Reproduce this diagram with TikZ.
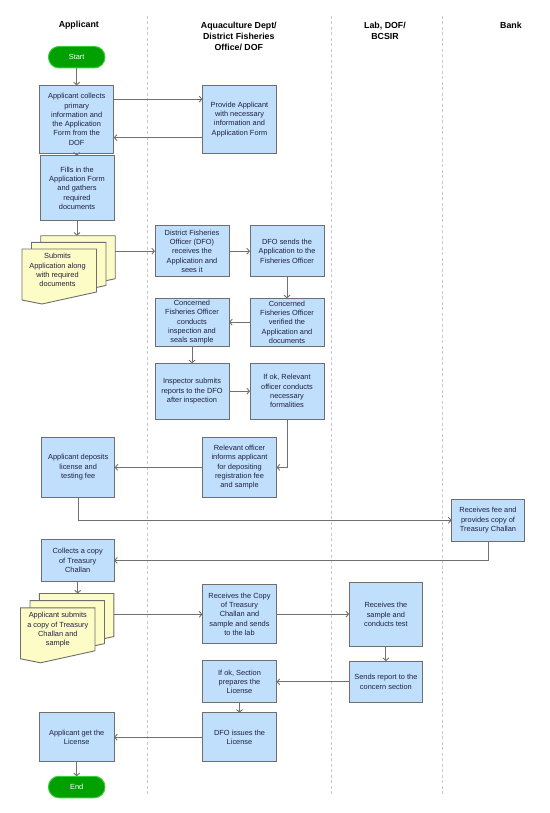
\documentclass[tikz,border=0pt]{standalone}
\usepackage{fontspec}
\setmainfont{Liberation Sans}
\usetikzlibrary{arrows.meta}
\definecolor{boxblue}{HTML}{BFDFFC}
\definecolor{edgegray}{HTML}{6E6E6E}
\definecolor{arrowgray}{HTML}{707070}
\definecolor{docyellow}{HTML}{FDFBC6}
\definecolor{termgreen}{HTML}{00A000}
\definecolor{termedge}{HTML}{40CC40}
\definecolor{lanecol}{HTML}{C6C6E2}
\definecolor{txt}{HTML}{202040}
\begin{document}
\begin{tikzpicture}[x=1pt,y=-1pt,
  proc/.style={draw=edgegray, line width=0.9pt, fill=boxblue, align=center, text=txt,
    font=\fontsize{7.4}{9.3}\selectfont, inner sep=0pt, outer sep=0pt},
  term/.style={draw=termedge, line width=1pt, fill=termgreen, text=white,
    rounded corners=10.5pt, font=\fontsize{7.4}{9.3}\selectfont, inner sep=0pt, outer sep=0pt,
    minimum width=56.5pt, minimum height=21.5pt},
  docsheet/.style={draw=edgegray, line width=0.9pt, fill=docyellow},
  doctext/.style={align=center, text=txt, font=\fontsize{7.4}{9.3}\selectfont, inner sep=0pt},
  head/.style={align=center, font=\bfseries\fontsize{8.8}{11.2}\selectfont, inner sep=0pt},
  lane/.style={draw=lanecol, line width=1pt, dash pattern=on 3pt off 2.5pt},
  conn/.style={draw=arrowgray, line width=0.9pt, -{Straight Barb[length=2.6pt,width=6pt]}}]
\useasboundingbox (0,0) rectangle (549,813);

% swimlane separators
\coordinate (l1t) at (147,15.8); \coordinate (l1b) at (147,796.7);
\coordinate (l2t) at (331,15.8); \coordinate (l2b) at (331,796.7);
\coordinate (l3t) at (442,15.8); \coordinate (l3b) at (442,796.7);
\draw[lane] (l1t) -- (l1b);
\draw[lane] (l2t) -- (l2b);
\draw[lane] (l3t) -- (l3b);

% headers
\node[head] (h1) at (78.8,25.2) {Applicant};
\node[head] (h2) at (238.8,36.4) {Aquaculture Dept/\\District Fisheries\\Office/ DOF};
\node[head] (h3) at (385,30.8) {Lab, DOF/\\BCSIR};
\node[head] (h4) at (511,25.2) {Bank};

% terminals
\node[term] (start) at (76.7,57.2) {Start};
\node[term] (end) at (76.7,787) {End};

% process boxes
\node[proc, minimum width=74.2pt, minimum height=68pt] (b1) at (76.7,119.4)
  {Applicant collects\\primary\\information and\\the Application\\Form from the\\DOF};
\node[proc, minimum width=74.2pt, minimum height=68pt] (prov) at (239.5,119.4)
  {Provide Applicant\\with necessary\\information and\\Application Form};
\node[proc, minimum width=74pt, minimum height=65pt] (fills) at (77,188.2)
  {Fills in the\\Application Form\\and gathers\\required\\documents};
\node[proc, minimum width=74pt, minimum height=51pt] (dfo) at (192,251.2)
  {District Fisheries\\Officer (DFO)\\receives the\\Application and\\sees it};
\node[proc, minimum width=74pt, minimum height=51pt] (dfosend) at (287,251.2)
  {DFO sends the\\Application to the\\Fisheries Officer};
\node[proc, minimum width=74pt, minimum height=47.7pt] (conducts) at (192,322.2)
  {Concerned\\Fisheries Officer\\conducts\\inspection and\\seals sample};
\node[proc, minimum width=74pt, minimum height=47.7pt] (verified) at (287,322.2)
  {Concerned\\Fisheries Officer\\verified the\\Application and\\documents};
\node[proc, minimum width=74pt, minimum height=55.7pt] (inspector) at (192,391.2)
  {Inspector submits\\reports to the DFO\\after inspection};
\node[proc, minimum width=74pt, minimum height=55.7pt] (ifok) at (287,391.2)
  {If ok, Relevant\\officer conducts\\necessary\\formalities};
\node[proc, minimum width=72.8pt, minimum height=59.5pt] (deposits) at (78.2,467.3)
  {Applicant deposits\\license and\\testing fee};
\node[proc, minimum width=74.2pt, minimum height=59.5pt] (relevant) at (239.5,467.3)
  {Relevant officer\\informs applicant\\for depositing\\registration fee\\and sample};
\node[proc, minimum width=72.8pt, minimum height=41.6pt] (fee) at (488,520.3)
  {Receives fee and\\provides copy of\\Treasury Challan};
\node[proc, minimum width=72.8pt, minimum height=42.8pt] (collects) at (77.7,560.4)
  {Collects a copy\\of Treasury\\Challan};
\node[proc, minimum width=74.2pt, minimum height=58.8pt] (rcopy) at (239.5,614.1)
  {Receives the Copy\\of Treasury\\Challan and\\sample and sends\\to the lab};
\node[proc, minimum width=73.5pt, minimum height=63.7pt] (rsample) at (385.9,614.5)
  {Receives the\\sample and\\conducts test};
\node[proc, minimum width=73.5pt, minimum height=41.4pt] (sends) at (385.9,681.8)
  {Sends report to the\\concern section};
\node[proc, minimum width=74.2pt, minimum height=42pt] (section) at (239.5,681.8)
  {If ok, Section\\prepares the\\License};
\node[proc, minimum width=74.4pt, minimum height=49pt] (issues) at (239.5,737.2)
  {DFO issues the\\License};
\node[proc, minimum width=74.7pt, minimum height=49pt] (get) at (76.7,737.2)
  {Applicant get the\\License};

% document stacks
\foreach \x/\y in {40.7/235.7, 31.5/242.4, 22/249}
  \draw[docsheet] (\x,\y) -- ++(74.5,0) -- ++(0,43) -- ++(-54.5,12) -- ++(-20,-4) -- cycle;
\node[doctext] (doc1) at (57.5,270.3) {Submits\\Application along\\with required\\documents};
\coordinate (doc1top) at (77.7,235.7);
\coordinate (doc1r) at (115.2,251.2);

\foreach \x/\y in {39.4/593.5, 30/600.6, 20.5/607.8}
  \draw[docsheet] (\x,\y) -- ++(74.5,0) -- ++(0,43) -- ++(-54.5,12) -- ++(-20,-4) -- cycle;
\node[doctext] (doc2) at (57.8,629.9) {Applicant submits\\a copy of Treasury\\Challan and\\sample};
\coordinate (doc2top) at (77.7,593.5);
\coordinate (doc2r) at (113.9,614.3);

% connectors
\draw[conn] (start.south) -- (b1.north);
\draw[conn] ([yshift=20.3pt]b1.east) -- ([yshift=20.3pt]prov.west);
\draw[conn] ([yshift=-18.2pt]prov.west) -- ([yshift=-18.2pt]b1.east);
\draw[conn] (b1.south) -- (b1.south |- fills.north);
\draw[conn] (fills.south) -- (fills.south |- doc1top);
\draw[conn] (doc1r) -- (dfo.west);
\draw[conn] (dfo.east) -- (dfosend.west);
\draw[conn] (dfosend.south) -- (verified.north);
\draw[conn] (verified.west) -- (conducts.east);
\draw[conn] (conducts.south) -- (inspector.north);
\draw[conn] (inspector.east) -- (ifok.west);
\draw[conn] (ifok.south) |- (relevant.east);
\draw[conn] (relevant.west) -- (deposits.east);
\draw[conn] (deposits.south) |- (fee.west);
\draw[conn] (fee.south) |- (collects.east);
\draw[conn] (collects.south) -- (doc2top);
\draw[conn] (doc2r) -- (doc2r -| rcopy.west);
\draw[conn] (rcopy.east) -- (rcopy.east -| rsample.west);
\draw[conn] (rsample.south) -- (sends.north);
\draw[conn] (sends.west) -- (section.east);
\draw[conn] (section.south) -- (issues.north);
\draw[conn] (issues.west) -- (get.east);
\draw[conn] (get.south) -- (end.north);
\end{tikzpicture}
\end{document}
